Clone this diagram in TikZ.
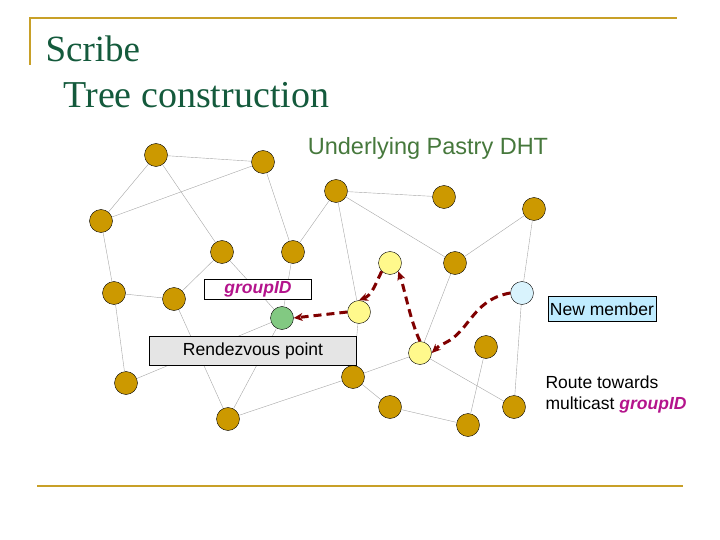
\documentclass[tikz,border=0pt]{standalone}
\usepackage{fontspec}
\setmainfont{Liberation Sans}
\newfontfamily\titlefont{Liberation Serif}
\usetikzlibrary{arrows.meta}
\definecolor{gold}{RGB}{204,153,0}
\definecolor{rim}{RGB}{200,160,40}
\definecolor{titlegreen}{RGB}{20,90,60}
\definecolor{dhtgreen}{RGB}{70,120,60}
\definecolor{routered}{RGB}{128,0,0}
\definecolor{gid}{RGB}{180,20,140}
\begin{document}
\begin{tikzpicture}[x=1pt, y=-1pt]
  \tikzset{
    peer/.style={circle, draw=black, fill=gold, minimum size=23pt, inner sep=0pt},
    hop/.style={peer, fill=yellow!45},
    link/.style={gray!70, thin},
    route/.style={-{Stealth[length=9pt, width=8pt]}, routered, line width=3pt, dash pattern=on 8pt off 5pt},
    tag/.style={draw=black, font=\fontsize{17.5}{17.5}\selectfont, inner sep=2pt}
  }
  \useasboundingbox (0,0) rectangle (720,540);
  % frame lines
  \draw[rim, line width=2pt] (30,65) -- (30,18) -- (677,18);
  \draw[rim, line width=2pt] (37,486) -- (683,486);
  \node[anchor=base west, text=titlegreen, font=\titlefont\fontsize{37}{37}\selectfont] (title) at (42,62) {Scribe};
  \node[anchor=base west, text=titlegreen, font=\titlefont\fontsize{38}{38}\selectfont] (subtitle) at (60,108) {Tree construction};
  \node[text=dhtgreen, font=\fontsize{23.5}{23.5}\selectfont] (dht) at (428,148) {Underlying Pastry DHT};
  % peers
  \node[peer] (n1) at (156,155) {};
  \node[peer] (n2) at (263,162) {};
  \node[peer] (n3) at (101,221) {};
  \node[peer] (n4) at (336,191) {};
  \node[peer] (n5) at (444,197) {};
  \node[peer] (n6) at (534,209) {};
  \node[peer] (n7) at (222,252) {};
  \node[peer] (n8) at (293,252) {};
  \node[hop]  (h1) at (390,263) {};
  \node[peer] (n10) at (455,263) {};
  \node[peer] (n11) at (114,293) {};
  \node[peer] (n12) at (174,299) {};
  \node[peer, fill=cyan!15] (member) at (522,293) {};
  \node[peer, fill=green!40!gray!70] (rdv) at (282,318) {};
  \node[hop]  (h2) at (359,312) {};
  \node[hop]  (h3) at (420,353) {};
  \node[peer] (n14) at (486,347) {};
  \node[peer] (n15) at (126,383) {};
  \node[peer] (n16) at (353,377) {};
  \node[peer] (n17) at (390,407) {};
  \node[peer] (n18) at (514,407) {};
  \node[peer] (n19) at (228,419) {};
  \node[peer] (n20) at (468,425) {};
  % links
  \foreach \a/\b in {n1/n2, n1/n3, n1/n7, n2/n3, n2/n8, n3/n11, n11/n12, n11/n15,
      n7/n12, n7/rdv, n8/n4, n8/rdv, n12/n19, rdv/n19, n15/rdv, n4/n5, n4/h2,
      n4/n10, n10/n6, n10/h3, n6/member, member/n18, h2/n16, n16/h3, n16/n19,
      n16/n17, n17/n20, n20/n14, h3/n18}
    \draw[link] (\a) -- (\b);
  % labels
  \node[tag, fill=white, minimum width=107pt, text=gid, font=\fontsize{17.5}{17.5}\selectfont\bfseries\itshape] (gidtag) at (258,289) {groupID};
  \node[tag, fill=gray!20, minimum width=207pt, minimum height=29pt] (rdvtag) at (253,351) {Rendezvous point};
  \node[tag, fill=blue!30!cyan!25, minimum height=25pt] (newtag) at (602,309) {New member};
  \node[anchor=north west, align=left, font=\fontsize{17.5}{21}\selectfont] (routetag) at (542,372)
    {Route towards\\multicast \textcolor{gid}{\bfseries\itshape groupID}};
  % route
  \draw[route] (member.west) .. controls (470,300) and (470,335) .. (440,345) -- (h3.east);
  \draw[route] (h3.north) .. controls (410,320) and (405,290) .. (h1.south east);
  \draw[route] (h1.south west) .. controls (375,285) and (372,295) .. (h2.north);
  \draw[route] (h2.west) -- (rdv.east);
\end{tikzpicture}
\end{document}
